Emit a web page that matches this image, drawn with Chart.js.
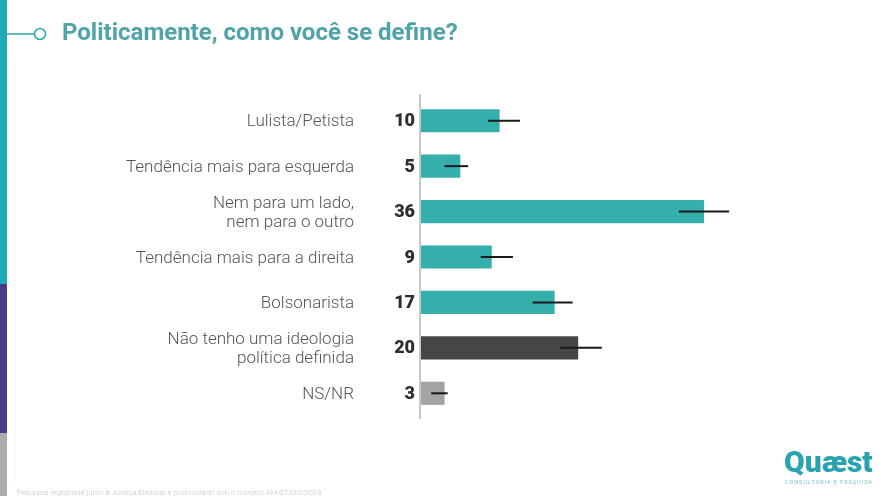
<!DOCTYPE html>
<html>
<head>
<meta charset="utf-8">
<script src="https://cdn.jsdelivr.net/npm/chart.js@4/dist/chart.umd.min.js"></script>
<style>
  html, body { margin:0; padding:0; background:#fff; }
  #wrap { position:relative; width:890px; height:496px; overflow:hidden; font-family:Roboto, "Noto Sans", sans-serif; }
  canvas { position:absolute; left:0; top:0; }
</style>
</head>
<body>
<div id="wrap"><canvas id="c" width="890" height="496"></canvas></div>
<script>
const categories = [
  ["Lulista/Petista"],
  ["Tendência mais para esquerda"],
  ["Nem para um lado,", "nem para o outro"],
  ["Tendência mais para a direita"],
  ["Bolsonarista"],
  ["Não tenho uma ideologia", "política definida"],
  ["NS/NR"]
];
const values  = [10, 5, 36, 9, 17, 20, 3];
const errLow  = [8.5, 3.0, 32.8, 7.6, 14.2, 17.7, 1.3];
const errHigh = [12.6, 6.0, 39.2, 11.7, 19.3, 23.0, 3.4];
const titleText = "Politicamente, como você se define?";
const footerText = "Pesquisa registrada junto à Justiça Eleitoral e protocolado sob o número AM-07330/2024";

const barColors = ["#35afac","#35afac","#35afac","#35afac","#35afac","#464646","#a3a3a3"];

const decor = {
  id: 'decor',
  beforeDraw(chart) {
    const ctx = chart.ctx;
    ctx.save();
    // left stripe
    ctx.fillStyle = "#1fa8b6"; ctx.fillRect(0, 0, 7, 284);
    ctx.fillStyle = "#4a3b8b"; ctx.fillRect(0, 284, 7, 149);
    ctx.fillStyle = "#ababab"; ctx.fillRect(0, 433, 7, 63);
    // faint line
    ctx.strokeStyle = "#f6f6f6"; ctx.lineWidth = 1;
    ctx.beginPath(); ctx.moveTo(15.5, 60); ctx.lineTo(15.5, 482); ctx.stroke();
    // title connector
    ctx.strokeStyle = "#2aa6b2"; ctx.lineWidth = 1.5;
    ctx.beginPath(); ctx.moveTo(7, 34); ctx.lineTo(34, 34); ctx.stroke();
    ctx.beginPath(); ctx.arc(40, 34, 5.5, 0, Math.PI*2); ctx.fillStyle="#fff"; ctx.fill(); ctx.stroke();
    // title
    ctx.fillStyle = "#4fa3a9";
    ctx.font = "bold 24px Roboto, 'Noto Sans', sans-serif";
    ctx.textAlign = "left"; ctx.textBaseline = "middle";
    ctx.fillText(titleText, 62, 34);
    // footer
    ctx.fillStyle = "#c4c4c4";
    ctx.font = "300 7.8px Roboto, sans-serif";
    ctx.textBaseline = "alphabetic";
    ctx.fillText(footerText, 17, 495);
    // logo
    ctx.fillStyle = "#2aa3b0";
    ctx.font = "900 30px Roboto, sans-serif";
    ctx.textBaseline = "alphabetic";
    ctx.textAlign = "left";
    ctx.fillText("Quæst", 784, 472);
    ctx.fillStyle = "#7cc4cc";
    ctx.font = "5.5px Roboto, sans-serif";
    const sub = "CONSULTORIA E PESQUISA";
    let x = 785;
    for (const ch of sub) { ctx.fillText(ch, x, 484); x += ctx.measureText(ch).width + 0.9; }
    ctx.restore();
  },
  afterDatasetsDraw(chart) {
    const ctx = chart.ctx;
    const xs = chart.scales.x, ys = chart.scales.y;
    ctx.save();
    // axis line
    const x0 = xs.getPixelForValue(0) - 1;
    ctx.strokeStyle = "#c8c8c8"; ctx.lineWidth = 2;
    ctx.beginPath(); ctx.moveTo(x0, 94); ctx.lineTo(x0, 419); ctx.stroke();
    // error bars
    ctx.strokeStyle = "#1a1a1a"; ctx.lineWidth = 2;
    values.forEach((v, i) => {
      const y = ys.getPixelForValue(i);
      ctx.beginPath();
      ctx.moveTo(xs.getPixelForValue(errLow[i]), y);
      ctx.lineTo(xs.getPixelForValue(errHigh[i]), y);
      ctx.stroke();
    });
    // value labels and category labels
    values.forEach((v, i) => {
      const y = ys.getPixelForValue(i);
      ctx.fillStyle = "#2e2e2e";
      ctx.font = "900 18px Roboto, sans-serif";
      ctx.textAlign = "right"; ctx.textBaseline = "middle";
      ctx.fillText(String(v), 415, y + 1);
      ctx.fillStyle = "#555555";
      ctx.font = "300 17px Roboto, sans-serif";
      const lines = categories[i];
      const lh = 19;
      const start = y - (lines.length - 1) * lh / 2;
      lines.forEach((t, k) => ctx.fillText(t, 354, start + k * lh + 1.5));
    });
    ctx.restore();
  }
};

new Chart(document.getElementById('c'), {
  type: 'bar',
  data: {
    labels: categories.map(c => c.join(' ')),
    datasets: [{
      data: values,
      backgroundColor: barColors,
      borderWidth: 0,
      categoryPercentage: 1,
      barPercentage: 0.51
    }]
  },
  options: {
    indexAxis: 'y',
    responsive: false,
    animation: false,
    devicePixelRatio: 1,
    layout: { padding: { left: 421, right: 76, top: 98, bottom: 80 } },
    plugins: { legend: { display: false }, tooltip: { enabled: false } },
    scales: {
      x: { display: false, min: 0, max: 50 },
      y: { display: false, grid: { display: false } }
    }
  },
  plugins: [decor]
});
</script>
</body>
</html>
